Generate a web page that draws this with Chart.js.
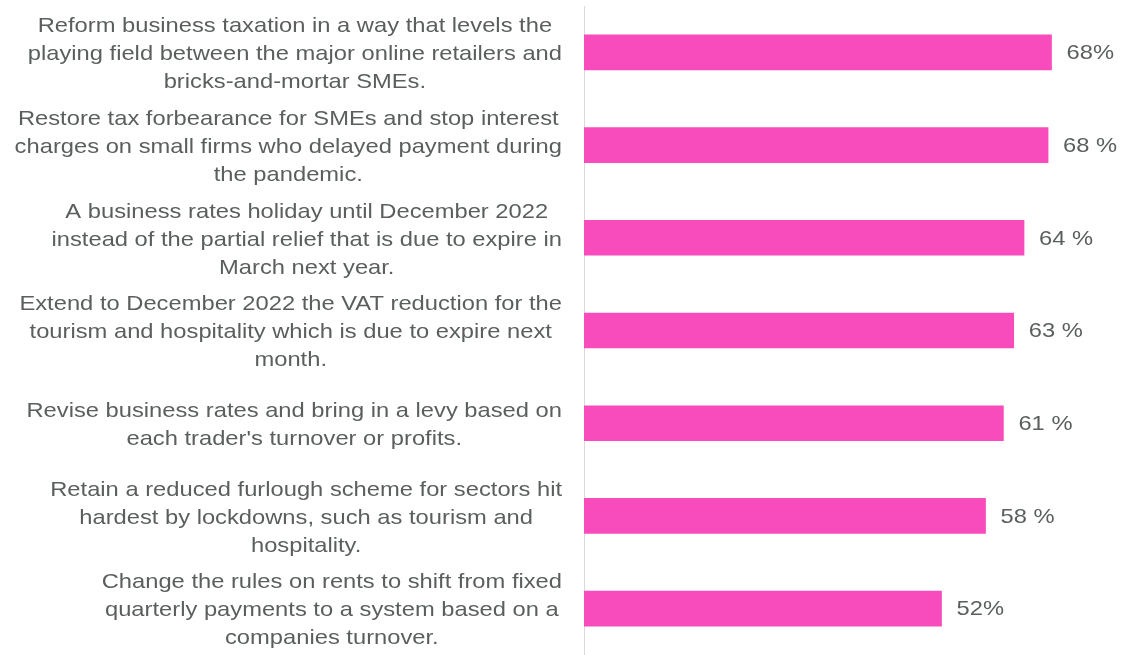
<!DOCTYPE html>
<html>
<head>
<meta charset="utf-8">
<script src="https://cdn.jsdelivr.net/npm/chart.js@4/dist/chart.umd.min.js"></script>
<style>
  html, body { margin: 0; padding: 0; background: #fff; }
  #wrap { width: 1122px; height: 655px; }
</style>
</head>
<body>
<div id="wrap"><canvas id="grafico"></canvas></div>
<script>
const categorias = [
    ['Reform business taxation in a way that levels the', 'playing field between the major online retailers and', 'bricks-and-mortar SMEs.'],
    ['Restore tax forbearance for SMEs and stop interest', 'charges on small firms who delayed payment during', 'the pandemic.'],
    ['A business rates holiday until December 2022', 'instead of the partial relief that is due to expire in', 'March next year.'],
    ['Extend to December 2022 the VAT reduction for the', 'tourism and hospitality which is due to expire next', 'month.'],
    ['Revise business rates and bring in a levy based on', "each trader's turnover or profits."],
    ['Retain a reduced furlough scheme for sectors hit', 'hardest by lockdowns, such as tourism and', 'hospitality.'],
    ['Change the rules on rents to shift from fixed', 'quarterly payments to a system based on a', 'companies turnover.']
];
const valores = [68, 67.5, 64, 62.5, 61, 58.4, 52];
const etiquetas = ['68%', '68 %', '64 %', '63 %', '61 %', '58 %', '52%'];

const fuente = '21px "Liberation Sans", Arial, sans-serif';
const gris = '#5A5F5E';
const estirar = 1.13; // text in the original is a bit wider than tall

function texto(ctx, t, x, y) {
    ctx.save();
    ctx.translate(x, y);
    ctx.scale(estirar, 1);
    ctx.fillText(t, 0, 0);
    ctx.restore();
}

// labels on the left: block right-aligned, lines centered
const textoCategorias = {
    id: 'textoCategorias',
    afterDraw(chart) {
        const ctx = chart.ctx;
        const y = chart.scales.y;
        ctx.save();
        ctx.font = fuente;
        ctx.fillStyle = gris;
        ctx.textAlign = 'center';
        ctx.textBaseline = 'middle';
        categorias.forEach((lineas, i) => {
            const centro = y.getPixelForTick(i) + 2;
            const ancho = Math.max(...lineas.map(l => ctx.measureText(l).width)) * estirar;
            const cx = 562 - ancho / 2;
            const alto = 28;
            const y0 = centro - (lineas.length - 1) * alto / 2;
            lineas.forEach((l, k) => texto(ctx, l, cx, y0 + k * alto));
        });
        ctx.restore();
    }
};

const textoValores = {
    id: 'textoValores',
    afterDatasetsDraw(chart) {
        const ctx = chart.ctx;
        const meta = chart.getDatasetMeta(0);
        ctx.save();
        ctx.font = fuente;
        ctx.fillStyle = gris;
        ctx.textAlign = 'left';
        ctx.textBaseline = 'middle';
        meta.data.forEach((bar, i) => {
            texto(ctx, etiquetas[i], bar.x + 15, bar.y + 1);
        });
        ctx.restore();
    }
};

new Chart(document.getElementById('grafico'), {
    type: 'bar',
    data: {
        labels: categorias.map(c => c.join(' ')),
        datasets: [{
            data: valores,
            backgroundColor: '#F84CBC',
            borderWidth: 0,
            barThickness: 35
        }]
    },
    options: {
        indexAxis: 'y',
        responsive: true,
        maintainAspectRatio: false,
        animation: false,
        layout: { padding: { left: 576, top: 6, right: 0, bottom: 0 } },
        plugins: {
            legend: { display: false },
            tooltip: { enabled: false }
        },
        scales: {
            x: {
                display: false,
                min: 0,
                max: 78.25
            },
            y: {
                ticks: { display: false },
                grid: { display: false },
                border: { display: true, color: '#D9D9D9', width: 1 }
            }
        }
    },
    plugins: [textoCategorias, textoValores]
});
</script>
</body>
</html>
